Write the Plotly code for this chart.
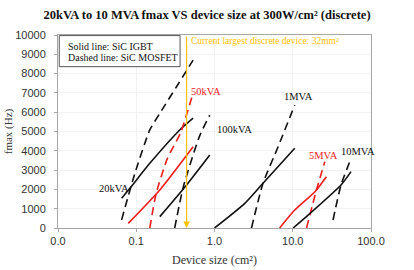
import math
import plotly.graph_objects as go

# ---- data (device size in cm², fmax in Hz) ----
igbt_20k_x = [0.065, 0.083, 0.149, 0.36, 0.533]
igbt_20k_y = [1540, 2060, 3350, 5080, 5690]
mos_20k_x = [0.065, 0.096, 0.149, 0.2, 0.327, 0.533]
mos_20k_y = [420, 2830, 5080, 5940, 7320, 8700]

igbt_50k_x = [0.079, 0.2, 0.533]
igbt_50k_y = [240, 1970, 4210]
mos_50k_x = [0.149, 0.18, 0.25, 0.37, 0.533]
mos_50k_y = [0, 1800, 3600, 4950, 7000]

igbt_100k_x = [0.2, 0.44, 0.87]
igbt_100k_y = [590, 2230, 3780]
mos_100k_x = [0.31, 0.4, 0.65, 0.87]
mos_100k_y = [0, 2140, 4800, 5850]

igbt_1m_x = [1.0, 2.44, 4.17, 10.6]
igbt_1m_y = [0, 1280, 2320, 4130]
mos_1m_x = [2.97, 4.17, 6.5, 10.6]
mos_1m_y = [0, 2320, 4210, 6370]

igbt_5m_x = [6.8, 10.6, 19.2, 26.9]
igbt_5m_y = [0, 930, 1880, 2660]
mos_5m_x = [15.0, 20.1, 25.7]
mos_5m_y = [0, 1970, 3435]

igbt_10m_x = [10.1, 15.7, 41.4, 55.6]
igbt_10m_y = [0, 670, 2230, 2920]
mos_10m_x = [32.7, 41.4, 53.5]
mos_10m_y = [415, 2230, 3435]

largest_device = 0.44  # cm², position of the vertical marker as drawn

x_tickvals = [0.01, 0.1, 1, 10, 100]
x_ticktext = ["0.0", "0.1", "1.0", "10.0", "100.0"]
y_tickvals = list(range(0, 10001, 1000))
y_ticktext = [str(v) for v in y_tickvals]

BLACK = "#111111"
RED = "#ee1c1c"
GOLD = "#FFC000"
SERIF = "Liberation Serif, Times New Roman, serif"
SANS = "Liberation Sans, Arial, sans-serif"

series = [
    (igbt_20k_x, igbt_20k_y, BLACK, "solid"),
    (mos_20k_x, mos_20k_y, BLACK, "dash"),
    (igbt_50k_x, igbt_50k_y, RED, "solid"),
    (mos_50k_x, mos_50k_y, RED, "dash"),
    (igbt_100k_x, igbt_100k_y, BLACK, "solid"),
    (mos_100k_x, mos_100k_y, BLACK, "dash"),
    (igbt_1m_x, igbt_1m_y, BLACK, "solid"),
    (mos_1m_x, mos_1m_y, BLACK, "dash"),
    (igbt_5m_x, igbt_5m_y, RED, "solid"),
    (mos_5m_x, mos_5m_y, RED, "dash"),
    (igbt_10m_x, igbt_10m_y, BLACK, "solid"),
    (mos_10m_x, mos_10m_y, BLACK, "dash"),
]

fig = go.Figure()
for xs, ys, col, dash in series:
    fig.add_trace(go.Scatter(
        x=xs, y=ys, mode="lines",
        line=dict(color=col, width=1.6, shape="spline", smoothing=0.6,
                  dash="solid" if dash == "solid" else "8px,5px"),
        showlegend=False, hoverinfo="skip"))

# curve labels
labels = [
    ("20kVA", 0.179, 0.207, BLACK),
    ("50kVA", 0.473, 0.705, RED),
    ("100kVA", 0.565, 0.508, BLACK),
    ("1MVA", 0.767, 0.679, BLACK),
    ("5MVA", 0.847, 0.378, RED),
    ("10MVA", 0.96, 0.394, BLACK),
]
for txt, px, py, col in labels:
    fig.add_annotation(x=px, y=py, xref="paper", yref="paper", text=txt,
                       xanchor="center", yanchor="middle",
                       showarrow=False, font=dict(family=SERIF, size=10.5, color=col))

# legend box
fig.add_shape(type="rect", xref="paper", yref="paper", x0=0.004, x1=0.39,
              y0=0.836, y1=0.997, line=dict(color="#555555", width=1),
              fillcolor="white")
fig.add_annotation(x=0.026, y=0.943, xref="paper", yref="paper", xanchor="left",
                   yanchor="middle",
                   text="Solid line: SiC IGBT", showarrow=False,
                   font=dict(family=SERIF, size=10, color="#111111"))
fig.add_annotation(x=0.026, y=0.886, xref="paper", yref="paper", xanchor="left",
                   yanchor="middle",
                   text="Dashed line: SiC MOSFET", showarrow=False,
                   font=dict(family=SERIF, size=10, color="#111111"))

# current largest device marker
lx = math.log10(largest_device)
fig.add_annotation(x=lx, y=0, ax=lx, ay=10000, xref="x", yref="y",
                   axref="x", ayref="y", text="", showarrow=True,
                   arrowhead=2, arrowsize=1.2, arrowwidth=1.1, arrowcolor=GOLD)
fig.add_annotation(x=0.417, y=0.969, xref="paper", yref="paper", xanchor="left",
                   yanchor="middle",
                   text="Current largest discrete device: 32mm²", showarrow=False,
                   font=dict(family=SERIF, size=9.5, color=GOLD))

fig.update_layout(
    width=414, height=270,
    margin=dict(l=58, r=43, t=35, b=42),
    paper_bgcolor="white", plot_bgcolor="white",
    title=dict(text="<b>20kVA to 10 MVA fmax VS device size at 300W/cm² (discrete)</b>",
               x=0.5, xanchor="center", y=1 - 15 / 270, yanchor="middle",
               font=dict(family=SERIF, size=12.5, color="#111111")),
    xaxis=dict(type="log", range=[-2, 2], tickvals=x_tickvals, ticktext=x_ticktext,
               showline=True, mirror=True, linecolor="#a6a6a6", linewidth=1,
               ticks="outside", ticklen=3, tickcolor="#a6a6a6",
               showgrid=True, gridcolor="#f2f2f2", zeroline=False,
               automargin=False,
               tickfont=dict(family=SANS, size=11, color="#333333"),
               title=dict(text="Device size (cm²)", standoff=9,
                          font=dict(family=SERIF, size=12, color="#333333"))),
    yaxis=dict(range=[0, 10000], tickvals=y_tickvals, ticktext=y_ticktext,
               showline=True, mirror=True, linecolor="#a6a6a6", linewidth=1,
               ticks="outside", ticklen=3, tickcolor="#a6a6a6",
               showgrid=True, gridcolor="#f2f2f2", zeroline=False,
               automargin=False, ticklabelstandoff=6,
               tickfont=dict(family=SANS, size=11, color="#333333"),
               title=dict(text="fmax (Hz)", standoff=0,
                          font=dict(family=SERIF, size=11, color="#333333"))),
)

fig.write_html("out.html")
